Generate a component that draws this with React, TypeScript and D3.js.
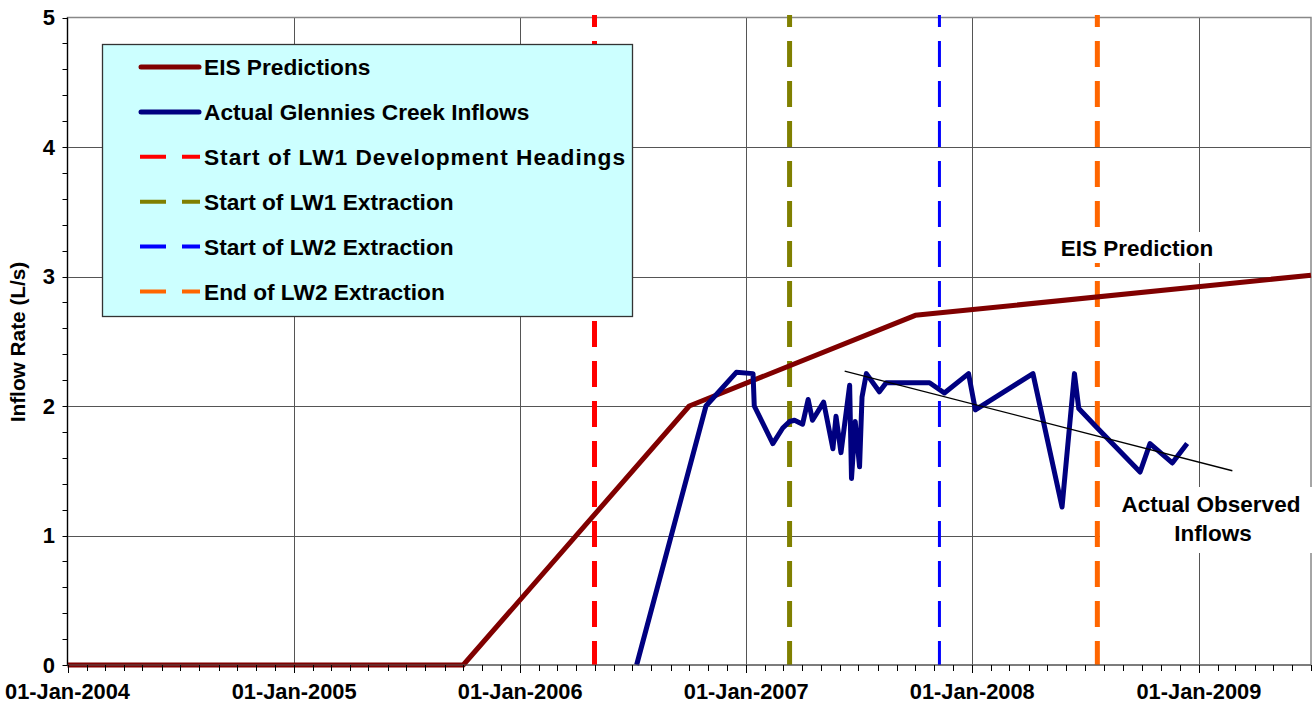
import React from "react";
import * as d3 from "d3";

const eisDates = ["2004-01-01", "2005-10-01", "2006-10-01", "2007-10-01", "2009-07-01"];
const eisValues = [0, 0, 2.0, 2.7, 3.01];

const actualDates = [
  "2006-07-08", "2006-10-28", "2006-12-16", "2007-01-12", "2007-01-14", "2007-02-13",
  "2007-03-01", "2007-03-12", "2007-03-20", "2007-04-02", "2007-04-11", "2007-04-18",
  "2007-05-06", "2007-05-21", "2007-05-26", "2007-06-03", "2007-06-17", "2007-06-20",
  "2007-06-26", "2007-07-03", "2007-07-07", "2007-07-14", "2007-08-04", "2007-08-15",
  "2007-10-24", "2007-11-17", "2007-12-26", "2008-01-06", "2008-04-08", "2008-05-25",
  "2008-06-14", "2008-06-21", "2008-07-19", "2008-09-28", "2008-10-14", "2008-11-19",
  "2008-12-13",
];
const actualValues = [
  0, 2.0, 2.26, 2.25, 2.0, 1.71,
  1.83, 1.88, 1.89, 1.86, 2.05, 1.89,
  2.03, 1.67, 1.92, 1.64, 2.16, 1.44,
  1.88, 1.53, 2.07, 2.25, 2.11, 2.18,
  2.18, 2.10, 2.25, 1.97, 2.25, 1.22,
  2.25, 1.98, 1.84, 1.49, 1.71, 1.56,
  1.71,
];

const trendDates = ["2007-06-09", "2009-02-24"];
const trendValues = [2.27, 1.5];

const eventNames = [
  "Start of LW1 Development Headings",
  "Start of LW1 Extraction",
  "Start of LW2 Extraction",
  "End of LW2 Extraction",
];
const eventDates = ["2006-05-01", "2007-03-12", "2007-11-09", "2008-07-21"];
const eventColors = ["#FF0000", "#808000", "#0000FF", "#FF6600"];
const eventWidths = [5, 5, 3, 5];

const seriesNames = ["EIS Predictions", "Actual Glennies Creek Inflows"];
const seriesColors = ["#800000", "#000080"];

const yTicks = [0, 1, 2, 3, 4, 5];
const xDomain = ["2004-01-01", "2009-07-01"];
const yTitle = "Inflow Rate (L/s)";
const eisLabel = "EIS Prediction";
const actualLabel = ["Actual Observed", "Inflows"];

const FONT = "'Liberation Sans', Arial, sans-serif";

export default function App() {
  const parse = d3.timeParse("%Y-%m-%d");
  const W = 1316, H = 707;
  const left = 67.5, right = 1311, top = 17.5, bottom = 665;
  const x = d3.scaleTime().domain(xDomain.map((d) => parse(d) as Date)).range([left, right]);
  const y = d3.scaleLinear().domain([0, 5]).range([bottom, top]);

  const line = d3
    .line<[Date, number]>()
    .x((d) => x(d[0]))
    .y((d) => y(d[1]));

  const eisData = eisDates.map((d, i) => [parse(d) as Date, eisValues[i]] as [Date, number]);
  const actData = actualDates.map((d, i) => [parse(d) as Date, actualValues[i]] as [Date, number]);
  const trendData = trendDates.map((d, i) => [parse(d) as Date, trendValues[i]] as [Date, number]);

  const [d0, d1] = x.domain();
  const years = d3.timeYear.range(d0, d3.timeDay.offset(d1, 1));
  const months = d3.timeMonth.range(d0, d3.timeDay.offset(d1, 1));
  const fmt = d3.timeFormat("%d-%b-%Y");
  const yMinor = d3.range(0, 5.0001, 0.2);

  const legX = 102.5, legY = 44.5, legW = 530, legH = 272;
  const rowY = (i: number) => 67 + i * 44.9;

  return (
    <svg
      width={W}
      height={H}
      style={{ position: "absolute", left: 0, top: 0, background: "#fff" }}
      fontFamily={FONT}
      fontWeight="bold"
    >
      <rect x={0} y={0} width={W} height={H} fill="#fff" />
      {/* gridlines */}
      {yTicks.slice(1, 5).map((t) => (
        <line key={"gy" + t} x1={left} x2={right} y1={Math.round(y(t)) + 0.5} y2={Math.round(y(t)) + 0.5} stroke="#555" strokeWidth={1} />
      ))}
      {years.slice(1).map((d, i) => (
        <line key={"gx" + i} x1={Math.round(x(d)) + 0.5} x2={Math.round(x(d)) + 0.5} y1={top} y2={bottom} stroke="#555" strokeWidth={1} />
      ))}
      {/* plot border */}
      <rect x={left} y={top} width={right - left} height={bottom - top} fill="none" stroke="#888" strokeWidth={1.5} />

      {/* event lines */}
      {eventDates.map((d, i) => {
        const xx = x(parse(d) as Date);
        return (
          <line
            key={"ev" + i}
            x1={xx}
            x2={xx}
            y1={top - 2.5}
            y2={bottom}
            stroke={eventColors[i]}
            strokeWidth={eventWidths[i]}
            strokeDasharray="26 14"
            strokeDashoffset={14}
          />
        );
      })}

      {/* EIS line */}
      <path d={line(eisData) || ""} fill="none" stroke={seriesColors[0]} strokeWidth={5} strokeLinejoin="round" />
      {/* Actual line */}
      <path d={line(actData) || ""} fill="none" stroke={seriesColors[1]} strokeWidth={5} strokeLinejoin="round" />
      {/* trend */}
      <path d={line(trendData) || ""} fill="none" stroke="#000" strokeWidth={1.3} />

      {/* axes */}
      <line x1={left} x2={left} y1={top} y2={bottom + 0.5} stroke="#000" strokeWidth={1.2} />
      <line x1={left} x2={right} y1={bottom} y2={bottom} stroke="#555" strokeWidth={1.2} />
      {months.map((d, i) => {
        const isYear = d.getMonth() === 0;
        return (
          <line key={"mt" + i} x1={Math.round(x(d)) + 0.5} x2={Math.round(x(d)) + 0.5} y1={bottom} y2={bottom + (isYear ? 8 : 6)} stroke="#000" strokeWidth={1} />
        );
      })}
      {yMinor.map((t, i) => (
        <line key={"yt" + i} x1={left - 5} x2={left} y1={Math.round(y(t)) + 0.5} y2={Math.round(y(t)) + 0.5} stroke="#000" strokeWidth={1} />
      ))}
      {yTicks.map((t) => (
        <text key={"yl" + t} x={55} y={y(t)} dy="0.36em" textAnchor="end" fontSize={22}>
          {t}
        </text>
      ))}
      {years.map((d, i) => (
        <text key={"xl" + i} x={x(d)} y={699} textAnchor="middle" fontSize={21.8}>
          {fmt(d)}
        </text>
      ))}
      <text transform={`translate(25,342) rotate(-90)`} textAnchor="middle" fontSize={20.8}>
        {yTitle}
      </text>

      {/* annotations */}
      <rect x={1050} y={232} width={174} height={31} fill="#fff" />
      <text x={1137} y={256} textAnchor="middle" fontSize={22.5}>
        {eisLabel}
      </text>
      <rect x={1100} y={487} width={216} height={66} fill="#fff" />
      <text x={1211} y={511.5} textAnchor="middle" fontSize={22.5}>
        {actualLabel[0]}
      </text>
      <text x={1213} y={540.5} textAnchor="middle" fontSize={22.5}>
        {actualLabel[1]}
      </text>

      {/* legend */}
      <rect x={legX} y={legY} width={legW} height={legH} fill="#CCFFFF" stroke="#333" strokeWidth={1.3} />
      {seriesNames.map((n, i) => (
        <g key={"ls" + i}>
          <line x1={141} x2={199} y1={rowY(i)} y2={rowY(i)} stroke={seriesColors[i]} strokeWidth={5} strokeLinecap="round" />
          <text x={204} y={rowY(i)} dy="0.36em" fontSize={22.7}>
            {n}
          </text>
        </g>
      ))}
      {eventNames.map((n, i) => (
        <g key={"le" + i}>
          <line x1={140} x2={200} y1={rowY(i + 2)} y2={rowY(i + 2)} stroke={eventColors[i]} strokeWidth={4} strokeDasharray="26 16" />
          <text
            x={204}
            y={rowY(i + 2)}
            dy="0.36em"
            fontSize={22.7}
            {...(i === 0 ? { textLength: 421, lengthAdjust: "spacing" } : {})}
          >
            {n}
          </text>
        </g>
      ))}
    </svg>
  );
}
